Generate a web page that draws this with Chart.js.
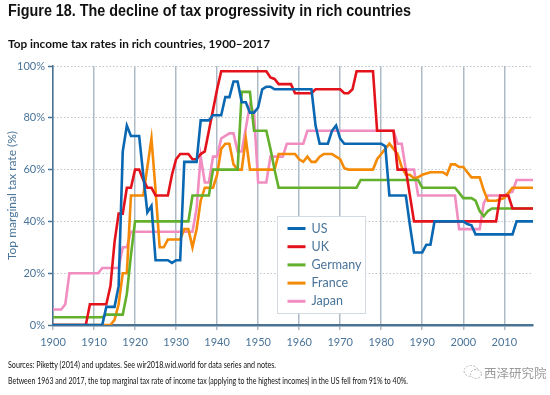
<!DOCTYPE html>
<html>
<head>
<meta charset="utf-8">
<script src="https://cdn.jsdelivr.net/npm/chart.js@4.4.1/dist/chart.umd.min.js"></script>
<style>
  html, body { margin: 0; padding: 0; background: #fff; }
  #page { position: relative; width: 550px; height: 395px; overflow: hidden; background: #fff; }
  #chartBox { position: absolute; left: 0; top: 0; width: 550px; height: 395px; }
  .txt { position: absolute; white-space: nowrap; transform-origin: 0 0; }
  #title { left: 8px; top: 2px; font: bold 16px "Liberation Sans", Arial, sans-serif; color: #111; }
  #subtitle { left: 8px; top: 36px; font: bold 12px Lato, sans-serif; color: #111; }
  #src { left: 8px; top: 360px; font: 8.5px Lato, sans-serif; color: #111; }
  #note { left: 8px; top: 376px; font: 8.5px Lato, sans-serif; color: #111; }
  #mark { left: 484px; top: 363px; font: 12.5px "Noto Sans CJK SC", sans-serif; color: #9a9a9a; }
  #icon { position: absolute; left: 463px; top: 364px; }
</style>
</head>
<body>
<div id="page">
  <div id="chartBox"><canvas id="chart" width="550" height="395"></canvas></div>
  <div class="txt" id="title" data-w="403">Figure 18. The decline of tax progressivity in rich countries</div>
  <div class="txt" id="subtitle" data-w="262">Top income tax rates in rich countries, 1900–2017</div>
  <div class="txt" id="src" data-w="268">Sources: Piketty (2014) and updates. See wir2018.wid.world for data series and notes.</div>
  <div class="txt" id="note" data-w="400">Between 1963 and 2017, the top marginal tax rate of income tax (applying to the highest incomes) in the US fell from 91% to 40%.</div>
  <svg id="icon" width="20" height="16" viewBox="0 0 20 16">
    <ellipse cx="8" cy="7" rx="7" ry="5.5" fill="none" stroke="#b5b5b5" stroke-width="1" stroke-dasharray="2 1.5"/>
    <ellipse cx="13" cy="10" rx="5.5" ry="4.5" fill="#fff" stroke="#b5b5b5" stroke-width="1" stroke-dasharray="2 1.5"/>
  </svg>
  <div class="txt" id="mark">西泽研究院</div>
</div>
<script>
// one value per year, 1900 -> 2017 (rows are decades)
const firstYear = 1900;

const usRates = [
  0, 0, 0, 0, 0, 0, 0, 0, 0, 0,
  0, 0, 0, 7, 7, 7, 15, 67, 77, 73,
  73, 73, 58, 43.5, 46, 25, 25, 25, 25, 24,
  25, 25, 63, 63, 63, 63, 79, 79, 79, 81,
  81, 81, 88, 88, 94, 94, 86, 86, 82, 82,
  84, 91, 92, 92, 91, 91, 91, 91, 91, 91,
  91, 91, 91, 91, 77, 70, 70, 70, 75, 77,
  72, 70, 70, 70, 70, 70, 70, 70, 70, 70,
  70, 69, 50, 50, 50, 50, 50, 38.5, 28, 28,
  28, 31, 31, 40, 40, 40, 40, 40, 40, 40,
  40, 39, 38.5, 35, 35, 35, 35, 35, 35, 35,
  35, 35, 35, 40, 40, 40, 40, 40
];

const ukRates = [
  0, 0, 0, 0, 0, 0, 0, 0, 0, 8,
  8, 8, 8, 8, 15, 32, 43, 43, 53, 53,
  60, 60, 56, 53, 53, 50, 50, 50, 50, 58,
  64, 66, 66, 66, 64, 64, 66, 67, 75, 83,
  91, 98, 98, 98, 98, 98, 98, 98, 98, 98,
  98, 98, 98, 95.6, 95, 93, 93, 93, 93, 89.5,
  89.5, 89.5, 89.5, 89.5, 91, 91, 91, 91, 91, 91,
  91, 89.5, 89.5, 91, 98, 98, 98, 98, 98, 75,
  75, 75, 75, 75, 60, 60, 60, 50, 40, 40,
  40, 40, 40, 40, 40, 40, 40, 40, 40, 40,
  40, 40, 40, 40, 40, 40, 40, 40, 40, 50,
  50, 50, 45, 45, 45, 45, 45, 45
];

const germanyRates = [
  3, 3, 3, 3, 3, 3, 3, 3, 3, 3,
  3, 3, 3, 4, 4, 4, 4, 4, 12, 27,
  40, 40, 40, 40, 40, 40, 40, 40, 40, 40,
  40, 40, 40, 40, 50, 50, 50, 50, 50, 60,
  60, 60, 60, 60, 60, 60, 90, 90, 90, 75,
  75, 75, 75, 68, 60, 53, 53, 53, 53, 53,
  53, 53, 53, 53, 53, 53, 53, 53, 53, 53,
  53, 53, 53, 53, 53, 56, 56, 56, 56, 56,
  56, 56, 56, 56, 56, 56, 56, 56, 56, 56,
  53, 53, 53, 53, 53, 53, 53, 53, 53, 51,
  49, 49, 49, 48, 44, 42, 44, 45, 45, 45,
  45, 45, 45, 45, 45, 45, 45, 45
];

const franceRates = [
  0, 0, 0, 0, 0, 0, 0, 0, 0, 0,
  0, 0, 0, 0, 0, 2, 8, 20, 20, 50,
  50, 50, 50, 61, 72, 52, 30, 30, 33, 33,
  33, 33, 37, 37, 30, 37, 48, 53, 53, 53,
  58, 68, 70, 70, 62, 60, 60, 72, 60, 60,
  60, 60, 60, 60, 60, 66, 66, 66, 66, 66,
  64, 63, 65, 63, 63, 65, 66, 66, 66, 65,
  64, 60.5, 60, 60, 60, 60, 60, 60, 60, 64,
  66, 68, 70, 68, 66, 61, 58, 58, 56.6, 57,
  58, 58.5, 59, 59, 59, 59, 58, 62, 62, 61,
  61, 59, 57, 57, 57, 52, 48, 48, 48, 48.5,
  49, 51, 53, 53, 53, 53, 53, 53
];

const japanRates = [
  6, 6, 6, 8, 20, 20, 20, 20, 20, 20,
  20, 20, 22, 22, 22, 22, 22, 30, 30, 36,
  36, 36, 36, 36, 36, 36, 36, 36, 36, 36,
  36, 36, 36, 36, 36, 45, 65, 55, 55, 65,
  65, 72, 73, 74, 74, 67, 67, 76, 85, 82,
  55, 55, 55, 65, 65, 65, 65, 70, 70, 70,
  70, 70, 75, 75, 75, 75, 75, 75, 75, 75,
  75, 75, 75, 75, 75, 75, 75, 75, 75, 75,
  75, 75, 75, 75, 70, 70, 60, 60, 60, 50,
  50, 50, 50, 50, 50, 50, 50, 50, 50, 37,
  37, 37, 37, 37, 37, 47, 50, 50, 50, 50,
  50, 51, 51.5, 56, 56, 56, 56, 56
];

const countries = ['US', 'UK', 'Germany', 'France', 'Japan'];
const seriesValues = [usRates, ukRates, germanyRates, franceRates, japanRates];
const seriesColors = ['#0a67b2', '#e4121b', '#62b02c', '#f58a07', '#f18dc0'];

const years = usRates.map((_, i) => firstYear + i);
const yTickValues = [0, 20, 40, 60, 80, 100];

const axisBlue = '#4b7393';
const labelBlue = '#4a7499';

const datasets = countries.map((name, k) => ({
  label: name,
  data: years.map((yr, i) => ({ x: yr, y: seriesValues[k][i] })),
  borderColor: seriesColors[k],
  backgroundColor: seriesColors[k],
  borderWidth: 2.6,
  pointRadius: 0,
  tension: 0,
  fill: false
}));

// legend drawn inside the plot, like the original
const boxLegend = {
  id: 'boxLegend',
  afterDatasetsDraw(chart) {
    const ctx = chart.ctx;
    const left = 277.5, top = 216.5, w = 88, h = 97;
    ctx.save();
    ctx.fillStyle = '#fff';
    ctx.strokeStyle = '#d3dae1';
    ctx.lineWidth = 1;
    ctx.fillRect(left, top, w, h);
    ctx.strokeRect(left, top, w, h);
    ctx.font = '12.5px Lato, sans-serif';
    ctx.textBaseline = 'middle';
    chart.data.datasets.forEach((ds, i) => {
      const y = top + 12 + i * 18.2;
      ctx.strokeStyle = ds.borderColor;
      ctx.lineWidth = 3;
      ctx.beginPath();
      ctx.moveTo(left + 10, y);
      ctx.lineTo(left + 28, y);
      ctx.stroke();
      ctx.fillStyle = labelBlue;
      ctx.fillText(ds.label, left + 34, y);
    });
    ctx.restore();
  }
};

const ctx = document.getElementById('chart').getContext('2d');
new Chart(ctx, {
  type: 'line',
  data: { datasets },
  plugins: [boxLegend],
  options: {
    responsive: false,
    animation: false,
    layout: { padding: { top: 66, right: 17, left: 0, bottom: 0 } },
    plugins: { legend: { display: false }, tooltip: { enabled: false } },
    scales: {
      x: {
        type: 'linear',
        min: 1900,
        max: 2017,
        afterFit: s => { s.height = 70; },
        ticks: {
          stepSize: 10,
          includeBounds: false,
          autoSkip: false,
          maxRotation: 0,
          padding: 6,
          color: labelBlue,
          font: { family: 'Lato', size: 11 },
          callback: v => String(v)
        },
        grid: { color: '#aebbc7', lineWidth: 1.5, tickLength: 5, tickColor: '#aebbc7' },
        border: { color: axisBlue, width: 2.5 }
      },
      y: {
        min: 0,
        max: 100,
        afterFit: s => { s.width = 53; },
        afterBuildTicks: s => { s.ticks = yTickValues.map(v => ({ value: v })); },
        ticks: {
          padding: 3,
          color: labelBlue,
          font: { family: 'Lato', size: 11 },
          callback: v => v + '%'
        },
        grid: { color: '#bcc6cf', lineWidth: 1, tickLength: 5, tickColor: axisBlue, tickWidth: 1.5, tickBorderDash: [] },
        border: { color: axisBlue, width: 1.5, dash: [1.5, 2] },
        title: {
          display: true,
          text: 'Top marginal tax rate (%)',
          color: labelBlue,
          font: { family: 'Lato', size: 12 },
          padding: { top: 5, bottom: 0 }
        }
      }
    }
  }
});

// squeeze the texts to the widths of the original
document.querySelectorAll('.txt[data-w]').forEach(el => {
  const natural = el.getBoundingClientRect().width;
  const target = Number(el.dataset.w);
  el.style.transform = 'scaleX(' + (target / natural) + ')';
});
</script>
</body>
</html>
